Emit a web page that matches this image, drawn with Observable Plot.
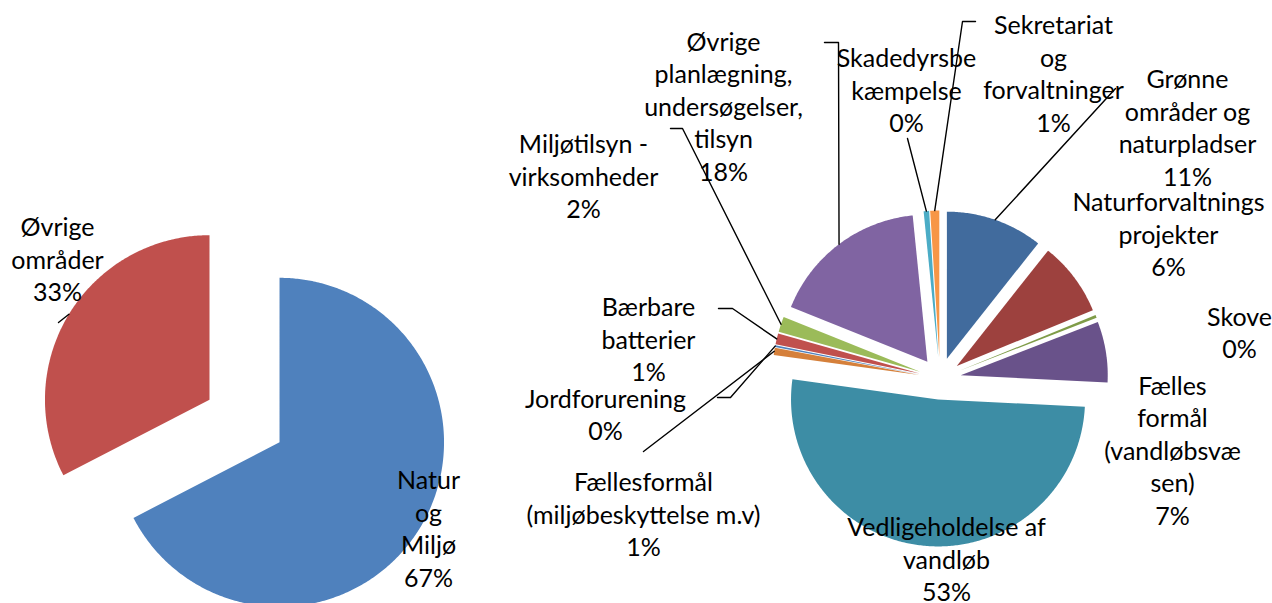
<!DOCTYPE html>
<html>
<head>
<meta charset="utf-8">
<script src="https://cdn.jsdelivr.net/npm/d3@7"></script>
<script src="https://cdn.jsdelivr.net/npm/@observablehq/plot@0.6"></script>
<style>
  html, body { margin: 0; padding: 0; background: #ffffff; }
  #chart { width: 1272px; height: 603px; overflow: hidden; }
</style>
</head>
<body>
<div id="chart"></div>
<script>
// ---------- DATA ----------
// Left pie
const leftCategories = ["Natur\nog\nMiljø", "Øvrige\nområder"];
const leftValues = [67.4, 32.6];
const leftPctLabels = ["67%", "33%"];
const leftColors = ["#4F81BD", "#C0504D"];

// Right pie (clockwise from 12 o'clock)
const rightCategories = [
  "Grønne\nområder og\nnaturpladser",
  "Naturforvaltnings\nprojekter",
  "Skove",
  "Fælles\nformål\n(vandløbsvæ\nsen)",
  "Vedligeholdelse af\nvandløb",
  "Fællesformål\n(miljøbeskyttelse m.v)",
  "Jordforurening",
  "Bærbare\nbatterier",
  "Miljøtilsyn -\nvirksomheder",
  "Øvrige\nplanlægning,\nundersøgelser,\ntilsyn",
  "Skadedyrsbe\nkæmpelse",
  "Sekretariat\nog\nforvaltninger"
];
const rightValues = [10.7, 8.2, 0.3, 6.7, 51.6, 0.8, 0.2, 1.2, 1.7, 17.4, 0.6, 1.0];
const rightPctLabels = ["11%", "6%", "0%", "7%", "53%", "1%", "0%", "1%", "2%", "18%", "0%", "1%"];
const rightColors = ["#416B9D", "#9D413E", "#7F9C48", "#69528A", "#3D8DA5", "#D5803B",
                     "#4F81BD", "#C0504D", "#9BBB59", "#8064A2", "#4BACC6", "#F79646"];

// ---------- LAYOUT ----------
const W = 1272, H = 603;
const leftPie = {cx: 244, cy: 420.5, r: 164.5, explode: 41};
const rightPie = {cx: 939.5, cy: 378, r: 147, explode: 21};
const labelShiftY = -2;
const leftLabelPos = [[428, 529], [57, 260]];
const leftLeaderStarts = [null, [[58, 322]]];
const rightLabelPos = [
  [1187, 128], [1168, 235], [1239, 333], [1172, 451], [946, 560], [643, 515],
  [605, 415], [648, 340], [583, 177], [723, 107], [906, 91], [1053, 74]
];
const rightLeaderStarts = [
  [[1115, 88]], null, null, null, null, [[643, 451]],
  [[717, 397], [730, 397]], [[718, 308], [732, 308]], [[670, 128], [682, 128]],
  [[824, 42], [838, 42]], [[907, 138]], [[975, 21], [962, 21]]
];

// ---------- GEOMETRY via d3.pie ----------
function buildPie(values, pie, colors, name) {
  const arcs = d3.pie().sort(null).value(d => d)(values);
  const polys = [], mids = [];
  arcs.forEach((a, i) => {
    const mid = (a.startAngle + a.endAngle) / 2;
    const ox = pie.cx + pie.explode * Math.sin(mid);
    const oy = pie.cy - pie.explode * Math.cos(mid);
    const id = name + i;
    polys.push({id, x: ox, y: oy, color: colors[i]});
    const n = Math.max(2, Math.ceil((a.endAngle - a.startAngle) / 0.01));
    for (let k = 0; k <= n; k++) {
      const t = a.startAngle + (a.endAngle - a.startAngle) * k / n;
      polys.push({id, x: ox + pie.r * Math.sin(t), y: oy - pie.r * Math.cos(t), color: colors[i]});
    }
    polys.push({id, x: ox, y: oy, color: colors[i]});
    mids.push([ox + pie.r * Math.sin(mid), oy - pie.r * Math.cos(mid)]);
  });
  return {polys, mids};
}

const L = buildPie(leftValues, leftPie, leftColors, "L");
const R = buildPie(rightValues, rightPie, rightColors, "R");
const slices = L.polys.concat(R.polys);

const leaders = [];
function addLeaders(starts, mids, name) {
  starts.forEach((s, i) => {
    if (!s) return;
    const pts = s.concat([mids[i]]);
    pts.forEach(p => leaders.push({id: name + i, x: p[0], y: p[1]}));
  });
}
addLeaders(leftLeaderStarts, L.mids, "L");
addLeaders(rightLeaderStarts, R.mids, "R");

const labels = [];
leftCategories.forEach((c, i) => labels.push({x: leftLabelPos[i][0], y: leftLabelPos[i][1] + labelShiftY, text: c + "\n" + leftPctLabels[i]}));
rightCategories.forEach((c, i) => labels.push({x: rightLabelPos[i][0], y: rightLabelPos[i][1] + labelShiftY, text: c + "\n" + rightPctLabels[i]}));

const chart = Plot.plot({
  width: W,
  height: H,
  margin: 0,
  x: {domain: [0, W], range: [0, W], axis: null},
  y: {domain: [0, H], range: [0, H], axis: null},
  color: {type: "identity"},
  style: {fontFamily: "Lato, Carlito, Calibri, sans-serif", background: "#ffffff", overflow: "hidden"},
  marks: [
    Plot.line(slices, {x: "x", y: "y", z: "id", fill: "color", stroke: "none", curve: "linear"}),
    Plot.line(leaders, {x: "x", y: "y", z: "id", stroke: "#000000", strokeWidth: 1.4, curve: "linear"}),
    Plot.text(labels, {x: "x", y: "y", text: "text", fontSize: 25, lineHeight: 1.3,
      fill: "#000000", textAnchor: "middle", lineAnchor: "middle"})
  ]
});
document.getElementById("chart").appendChild(chart);
</script>
</body>
</html>
